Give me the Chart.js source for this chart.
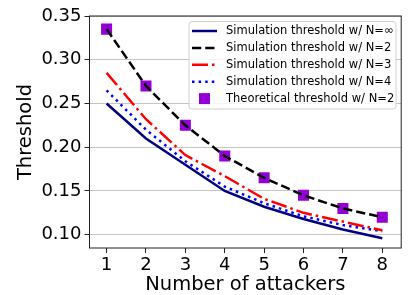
<!DOCTYPE html>
<html>
<head>
<meta charset="utf-8">
<script src="https://cdn.jsdelivr.net/npm/chart.js@4.4.1/dist/chart.umd.min.js"></script>
<style>
  html, body { margin: 0; padding: 0; background: #fff; }
  #wrap { width: 409px; height: 295px; }
</style>
</head>
<body>
<div id="wrap"><canvas id="chart"></canvas></div>
<script>
'use strict';

// Data
var attackers = [1, 2, 3, 4, 5, 6, 7, 8];
var simInf = [0.25, 0.21, 0.18, 0.15, 0.132, 0.118, 0.106, 0.096];
var simN2 = [0.335, 0.27, 0.225, 0.19, 0.165, 0.145, 0.13, 0.12];
var simN3 = [0.285, 0.232, 0.191, 0.167, 0.141, 0.125, 0.115, 0.105];
var simN4 = [0.265, 0.22, 0.184, 0.155, 0.136, 0.121, 0.111, 0.104];
var theoN2 = [0.335, 0.27, 0.225, 0.19, 0.165, 0.145, 0.13, 0.12];
var yTicks = [0.10, 0.15, 0.20, 0.25, 0.30, 0.35];

var FONT = "'DejaVu Sans', sans-serif";

function pts(vals) {
  return attackers.map(function(x, i) { return { x: x, y: vals[i] }; });
}

function lineSet(label, vals, color, dash, order) {
  return {
    label: label,
    data: pts(vals),
    borderColor: color,
    backgroundColor: color,
    borderWidth: 2.5,
    borderDash: dash,
    borderCapStyle: 'butt',
    pointRadius: 0,
    tension: 0,
    fill: false,
    order: order
  };
}

// Legend drawn inside the plot, matplotlib style
var boxLegend = {
  id: 'boxLegend',
  afterDraw: function(chart) {
    var ctx = chart.ctx;
    var a = chart.chartArea;

    // frame round the plot
    ctx.save();
    ctx.strokeStyle = '#222';
    ctx.lineWidth = 1;
    ctx.strokeRect(a.left, a.top, a.right - a.left, a.bottom - a.top);
    ctx.restore();

    var x0 = 189, y0 = 21.5, w = 207, h = 87.5;
    ctx.save();
    ctx.beginPath();
    ctx.roundRect(x0, y0, w, h, 3);
    ctx.fillStyle = 'rgba(255,255,255,0.85)';
    ctx.fill();
    ctx.strokeStyle = '#d0d0d0';
    ctx.lineWidth = 1;
    ctx.stroke();

    ctx.font = '11.5px ' + FONT;
    ctx.textBaseline = 'middle';
    ctx.fillStyle = '#000';

    chart.data.datasets.forEach(function(ds, row) {
      var cy = 31 + row * 16.9;
      if (ds.pointStyle === 'rect') {
        ctx.fillStyle = ds.backgroundColor;
        ctx.fillRect(199, cy - 5.5, 11, 11);
      } else {
        ctx.beginPath();
        ctx.setLineDash(ds.borderDash || []);
        ctx.lineCap = 'butt';
        ctx.strokeStyle = ds.borderColor;
        ctx.lineWidth = ds.borderWidth;
        ctx.moveTo(192, cy);
        ctx.lineTo(217, cy);
        ctx.stroke();
        ctx.setLineDash([]);
      }
      ctx.fillStyle = '#000';
      ctx.fillText(ds.label, 226, cy);
    });
    ctx.restore();
  }
};

new Chart(document.getElementById('chart'), {
  type: 'line',
  data: {
    datasets: [
      lineSet('Simulation threshold w/ N=\u221e', simInf, '#000080', [], 4),
      lineSet('Simulation threshold w/ N=2', simN2, '#000000', [9.25, 4], 1),
      lineSet('Simulation threshold w/ N=3', simN3, '#ff0000', [16, 4, 2.5, 4], 2),
      lineSet('Simulation threshold w/ N=4', simN4, '#0000ff', [2.5, 4.1], 3),
      {
        label: 'Theoretical threshold w/ N=2',
        type: 'scatter',
        data: pts(theoN2),
        pointStyle: 'rect',
        pointRadius: 7.8,
        pointHoverRadius: 7.8,
        backgroundColor: '#9400d3',
        borderWidth: 0,
        showLine: false,
        order: 5
      }
    ]
  },
  options: {
    responsive: true,
    maintainAspectRatio: false,
    animation: false,
    events: [],
    layout: { padding: { top: 16, right: 4, left: 0, bottom: 0 } },
    plugins: {
      legend: { display: false },
      tooltip: { enabled: false }
    },
    scales: {
      x: {
        type: 'linear',
        min: 0.566,
        max: 8.48,
        afterBuildTicks: function(s) {
          s.ticks = attackers.map(function(v) { return { value: v }; });
        },
        afterFit: function(s) { s.height = 47; },
        border: { display: false },
        grid: {
          drawOnChartArea: false,
          drawTicks: true,
          tickLength: 5,
          tickColor: '#222'
        },
        ticks: {
          color: '#000',
          padding: 2,
          maxRotation: 0,
          font: { family: FONT, size: 18 },
          callback: function(v) { return String(v); }
        },
        title: {
          display: true,
          text: 'Number of attackers',
          color: '#000',
          padding: { top: 0, bottom: 0 },
          font: { family: FONT, size: 19.5, lineHeight: 1.0 }
        }
      },
      y: {
        min: 0.0848,
        max: 0.35,
        afterBuildTicks: function(s) {
          s.ticks = yTicks.map(function(v) { return { value: v }; });
        },
        afterFit: function(s) { s.width = 89.5; },
        border: { display: false },
        grid: {
          color: '#c4c4c4',
          lineWidth: 1,
          drawTicks: true,
          tickLength: 5,
          tickColor: '#222'
        },
        ticks: {
          color: '#000',
          padding: 3,
          font: { family: FONT, size: 18 },
          callback: function(v) { return v.toFixed(2); }
        },
        title: {
          display: true,
          text: 'Threshold',
          color: '#000',
          padding: { top: 16, bottom: 0 },
          font: { family: FONT, size: 19.5, lineHeight: 1.0 }
        }
      }
    }
  },
  plugins: [boxLegend]
});
</script>
</body>
</html>
